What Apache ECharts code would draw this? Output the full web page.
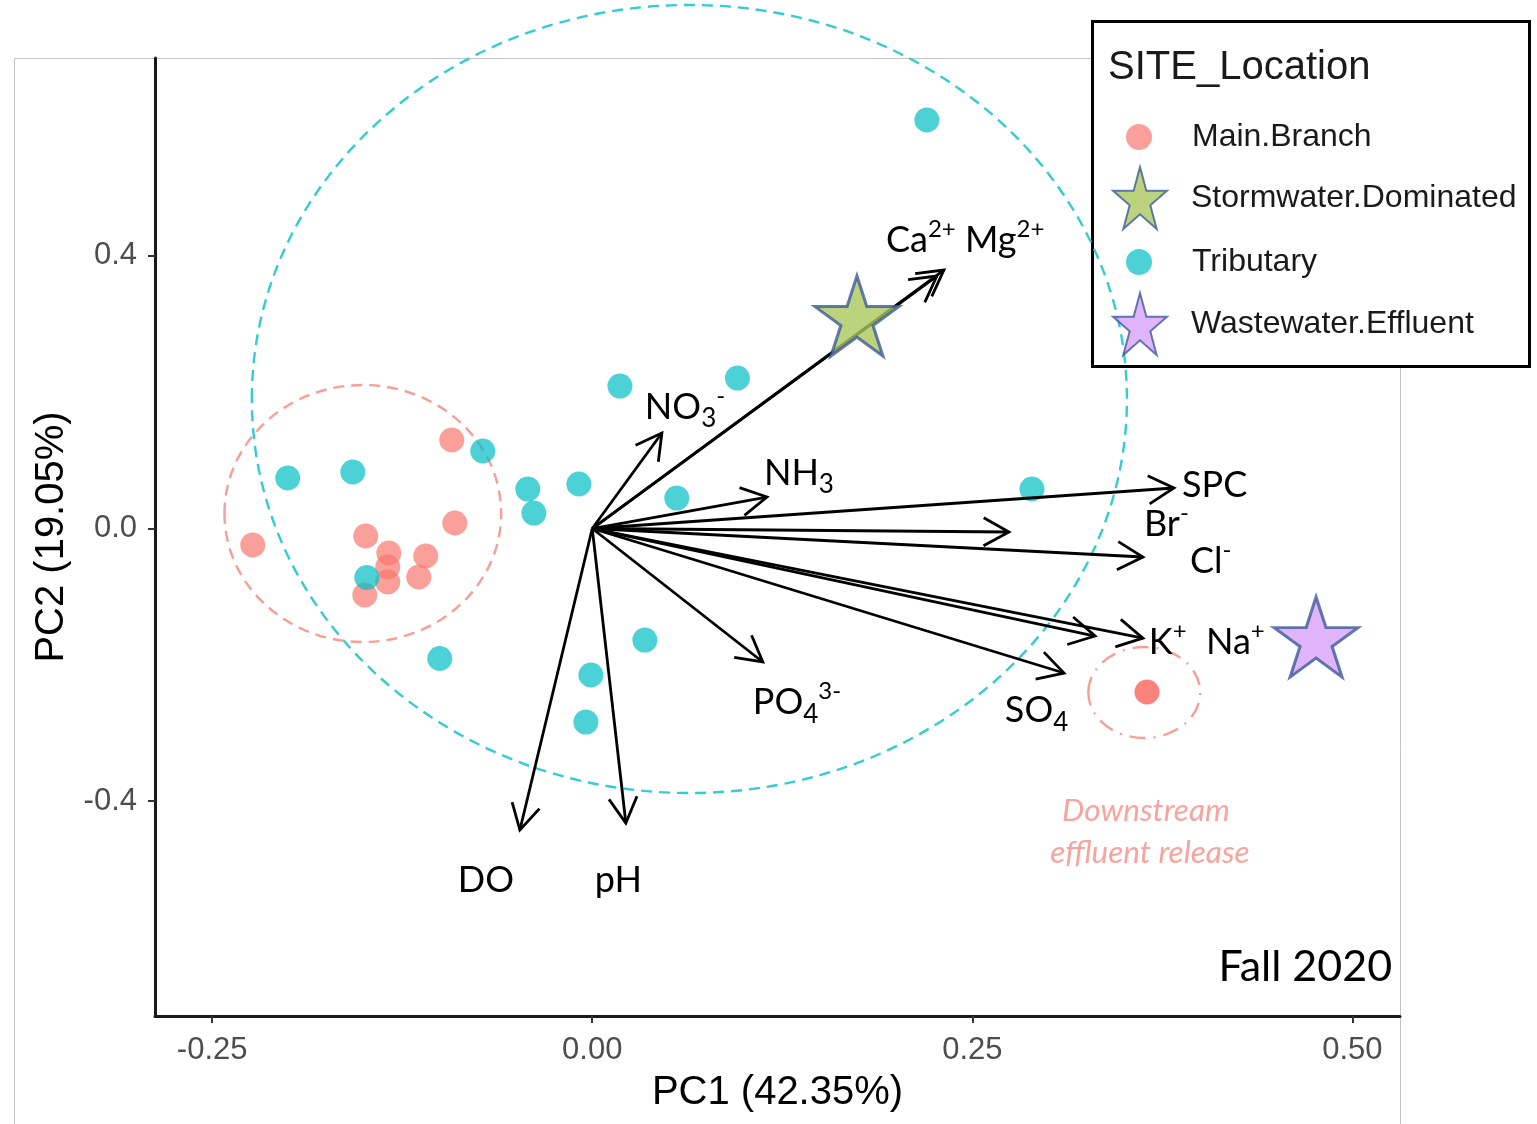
<!DOCTYPE html>
<html><head><meta charset="utf-8">
<script src="https://cdn.jsdelivr.net/npm/echarts@6/dist/echarts.min.js"></script>
<style>html,body{margin:0;padding:0;background:#fff}#chart{width:1537px;height:1124px}</style>
</head><body><div id="chart"></div><script>
// ---------------- data ----------------
const mainBranchPC1 = [-0.0924,-0.0904,-0.2233,-0.1490,-0.1338,-0.1095,-0.1345,-0.1345,-0.1141,-0.1496,0.3649];
const mainBranchPC2 = [0.1298,0.0081,-0.0242,-0.0110,-0.0359,-0.0403,-0.0565,-0.0785,-0.0711,-0.0975,-0.2398];
const tributaryPC1 = [0.2201,0.0955,0.0182,-0.0720,-0.2003,-0.1575,-0.0424,-0.0384,-0.0088,0.0556,0.2892,-0.1483,-0.1003,0.0346,-0.0009,-0.0042];
const tributaryPC2 = [0.5993,0.2207,0.2090,0.1137,0.0741,0.0829,0.0579,0.0227,0.0653,0.0447,0.0580,-0.0719,-0.1907,-0.1636,-0.2149,-0.2839];
const stormwaterPC1 = [0.1741];
const stormwaterPC2 = [0.3117];
const wastewaterPC1 = [0.4761];
const wastewaterPC2 = [-0.1592];
const loadingNames = ['Ca2+','Mg2+','NO3-','NH3','SPC','Br-','Cl-','K+','Na+','SO4','PO43-','DO','pH'];
const loadingPC1 = [0.2267,0.2313,0.0458,0.1149,0.3826,0.2741,0.3622,0.3307,0.3622,0.3103,0.1122,-0.0476,0.0221];
const loadingPC2 = [0.3704,0.3792,0.1401,0.0462,0.0594,-0.0051,-0.0418,-0.1577,-0.1607,-0.2120,-0.1958,-0.4423,-0.4320];
const labelTexts = ['Ca^{2+} Mg^{2+}','NO_{3}^{-}','NH_{3}','SPC','Br^{-}','Cl^{-}','K^{+}','Na^{+}','SO_{4}','PO_{4}^{3-}','DO','pH'];
const labelPC1 = [0.1932,0.0346,0.1129,0.3879,0.3629,0.3932,0.3661,0.4037,0.2714,0.1056,-0.0884,0.0017];
const labelPC2 = [0.4232,0.1782,0.0814,0.0638,0.0066,-0.0477,-0.1665,-0.1665,-0.2669,-0.2553,-0.5157,-0.5157];
const ellipseCenterPC1 = [0.0639,-0.1509,0.3631];
const ellipseCenterPC2 = [0.1900,0.0220,-0.2406];
const ellipseRadiusPC1 = [0.2878,0.0910,0.0368];
const ellipseRadiusPC2 = [0.5780,0.1885,0.0667];
const noteTexts = ['Downstream','effluent release','Fall 2020'];
const notePC1 = [0.3642,0.3668,0.5261];
const notePC2 = [-0.4144,-0.4760,-0.6432];
const xTicks = [-0.25,0,0.25,0.5];
const yTicks = [-0.4,0,0.4];
const categories = ['Main.Branch','Stormwater.Dominated','Tributary','Wastewater.Effluent'];

// ---------------- styles ----------------
const STAR = 'path://M0,-50L11.23,-15.45L47.55,-15.45L18.17,5.9L29.39,40.45L0,19.1L-29.39,40.45L-18.17,5.9L-47.55,-15.45L-11.23,-15.45Z';
const ellipseColors = ['#33CCD0','#F79E97','#F79E97'];
const ellipseDash = [[11,7],[11,7],[16,8,2,8]];
const noteStyles = [
  {fontSize:31.5,fontStyle:'italic',fill:'#F8A39D',align:'center'},
  {fontSize:31.5,fontStyle:'italic',fill:'#F8A39D',align:'center'},
  {fontSize:43,fontStyle:'normal',fill:'#000',align:'right'}
];
const LABEL_FONT = 'Lato';
const mctx = document.createElement('canvas').getContext('2d');
function measure(t, size){ mctx.font = size + 'px ' + LABEL_FONT; return mctx.measureText(t).width; }
function parseParts(s){
  const re = /([_^])\{([^}]*)\}|([^_^]+)/g; const out = []; let m;
  while ((m = re.exec(s))) { if (m[3]) out.push({t:m[3],k:0}); else out.push({t:m[2],k:m[1]==='^'?1:-1}); }
  return out;
}
const zip = (a,b) => a.map((v,i)=>[v,b[i]]);

const chart = echarts.init(document.getElementById('chart'), null, {renderer:'canvas'});
function legendText(pad){ return {fontSize:32, fontFamily:'Liberation Sans', color:'#1a1a1a', padding:[0,0,0,pad]}; }
const legendBase = {orient:'vertical', padding:0, symbolKeepAspect:false, selectedMode:true};

chart.setOption({
  animation:false,
  backgroundColor:'#fff',
  grid:{left:155, top:58, right:137, bottom:108, containLabel:false},
  xAxis:{
    type:'value', min:-0.2876, max:0.5313,
    name:'PC1 (42.35%)', nameLocation:'middle', nameGap:57,
    nameTextStyle:{fontSize:40, fontFamily:'Liberation Sans', color:'#000'},
    axisLine:{onZero:false, lineStyle:{color:'#1a1a1a', width:3}},
    axisTick:{customValues:xTicks, length:7, lineStyle:{color:'#333', width:2}},
    axisLabel:{customValues:xTicks, margin:19, fontSize:31, fontFamily:'Liberation Sans', color:'#4d4d4d', formatter:v=>v.toFixed(2)},
    splitLine:{show:false}
  },
  yAxis:{
    type:'value', min:-0.7151, max:0.6902,
    name:'PC2 (19.05%)', nameLocation:'middle', nameGap:83, nameRotate:90,
    nameTextStyle:{fontSize:40, fontFamily:'Liberation Sans', color:'#000'},
    axisLine:{onZero:false, lineStyle:{color:'#1a1a1a', width:3}},
    axisTick:{customValues:yTicks, length:7, lineStyle:{color:'#333', width:2}},
    axisLabel:{customValues:yTicks, margin:18, fontSize:31, fontFamily:'Liberation Sans', color:'#4d4d4d', padding:[5,0,0,0], formatter:v=>v.toFixed(1)},
    splitLine:{show:false}
  },
  legend:[
    Object.assign({data:[categories[0]], left:1126, top:121, itemWidth:52, itemHeight:26, textStyle:legendText(22)}, legendBase),
    Object.assign({data:[categories[1]], left:1112, top:166, itemWidth:54, itemHeight:62, textStyle:legendText(19)}, legendBase),
    Object.assign({data:[categories[2]], left:1126, top:246, itemWidth:52, itemHeight:26, textStyle:legendText(22)}, legendBase),
    Object.assign({data:[categories[3]], left:1112, top:292, itemWidth:54, itemHeight:62, textStyle:legendText(19)}, legendBase)
  ],
  graphic:[
    {type:'polyline', z:0, silent:true, shape:{points:[[1091,58.5],[14.5,58.5],[14.5,1124]]}, style:{stroke:'#c4c4c4', lineWidth:1, fill:'none'}},
    {type:'line', z:0, silent:true, shape:{x1:1400.5,y1:367,x2:1400.5,y2:1124}, style:{stroke:'#c4c4c4', lineWidth:1}},
    {type:'rect', z:0, silent:true, shape:{x:1092.5,y:21.5,width:437,height:345}, style:{fill:'#fff', stroke:'#000', lineWidth:3}},
    {type:'text', z:0, silent:true, left:1108, top:48, style:{text:'SITE_Location', fontSize:40, fontFamily:'Liberation Sans', fill:'#1a1a1a'}}
  ],
  series:[
    {
      type:'custom', name:'ellipses', z:1, silent:true, clip:false, legendHoverLink:false,
      data: ellipseCenterPC1.map((x,i)=>[x, ellipseCenterPC2[i], ellipseRadiusPC1[i], ellipseRadiusPC2[i], i]),
      encode:{x:0, y:1},
      renderItem(params, api){
        const i = api.value(4);
        const c = api.coord([api.value(0), api.value(1)]);
        const s = api.size([api.value(2), api.value(3)]);
        return {type:'ellipse', shape:{cx:c[0], cy:c[1], rx:s[0], ry:s[1]},
          style:{fill:'none', stroke:ellipseColors[i], lineWidth:2.4, lineDash:ellipseDash[i]}};
      }
    },
    {
      type:'scatter', name:categories[0], z:2, symbol:'circle', symbolSize:25,
      itemStyle:{color:'#F8766D', opacity:0.7},
      data: zip(mainBranchPC1, mainBranchPC2).map((v,i,a)=> i===a.length-1 ? {value:v, itemStyle:{opacity:0.9}} : v)
    },
    {
      type:'scatter', name:categories[2], z:2, symbol:'circle', symbolSize:25,
      itemStyle:{color:'#00BFC4', opacity:0.7},
      data: zip(tributaryPC1, tributaryPC2)
    },
    {
      type:'custom', name:'loadings', z:3, silent:true, clip:false,
      data: loadingPC1.map((x,i)=>[x, loadingPC2[i], i]),
      encode:{x:0, y:1},
      renderItem(params, api){
        const o = api.coord([0,0]);
        const t = api.coord([api.value(0), api.value(1)]);
        const ang = Math.atan2(t[1]-o[1], t[0]-o[0]);
        const L = 29, A = Math.PI/6.2;
        const p1 = [t[0]-L*Math.cos(ang-A), t[1]-L*Math.sin(ang-A)];
        const p2 = [t[0]-L*Math.cos(ang+A), t[1]-L*Math.sin(ang+A)];
        return {type:'group', children:[
          {type:'line', shape:{x1:o[0],y1:o[1],x2:t[0],y2:t[1]}, style:{stroke:'#000', lineWidth:2.8}},
          {type:'polyline', shape:{points:[p1,t,p2]}, style:{stroke:'#000', lineWidth:2.8, fill:'none'}}
        ]};
      }
    },
    {
      type:'scatter', name:categories[1], z:4, symbol:STAR, symbolSize:[84,80], symbolKeepAspect:false,
      itemStyle:{color:'#ABC85C', borderColor:'#3D5A9B', borderWidth:3},
      data: zip(stormwaterPC1, stormwaterPC2)
    },
    {
      type:'scatter', name:categories[3], z:4, symbol:STAR, symbolSize:[84,80], symbolKeepAspect:false,
      itemStyle:{color:'#D7A1F8', borderColor:'#3D5A9B', borderWidth:3},
      data: zip(wastewaterPC1, wastewaterPC2)
    },
    {
      type:'custom', name:'loadingLabels', z:5, silent:true, clip:false,
      data: labelPC1.map((x,i)=>[x, labelPC2[i], i]),
      encode:{x:0, y:1},
      renderItem(params, api){
        const i = api.value(2);
        const p = api.coord([api.value(0), api.value(1)]);
        let x = p[0]; const children = [];
        parseParts(labelTexts[i]).forEach(pt=>{
          const size = pt.k===0 ? 36 : (pt.k<0 ? 26 : 24);
          const dy = pt.k===0 ? 0 : (pt.k<0 ? 12 : -11);
          children.push({type:'text', x:x, y:p[1]+dy, style:{text:pt.t, fontSize:size, fontFamily:LABEL_FONT, fill:'#000', align:'left', verticalAlign:'middle'}});
          x += measure(pt.t, size);
        });
        return {type:'group', children};
      }
    },
    {
      type:'custom', name:'notes', z:5, silent:true, clip:false,
      data: notePC1.map((x,i)=>[x, notePC2[i], i]),
      encode:{x:0, y:1},
      renderItem(params, api){
        const i = api.value(2);
        const p = api.coord([api.value(0), api.value(1)]);
        const st = noteStyles[i];
        return {type:'text', x:p[0], y:p[1], style:{text:noteTexts[i], fontSize:st.fontSize, fontStyle:st.fontStyle, fontFamily:LABEL_FONT, fill:st.fill, align:st.align, verticalAlign:'middle'}};
      }
    }
  ]
});
</script></body></html>
